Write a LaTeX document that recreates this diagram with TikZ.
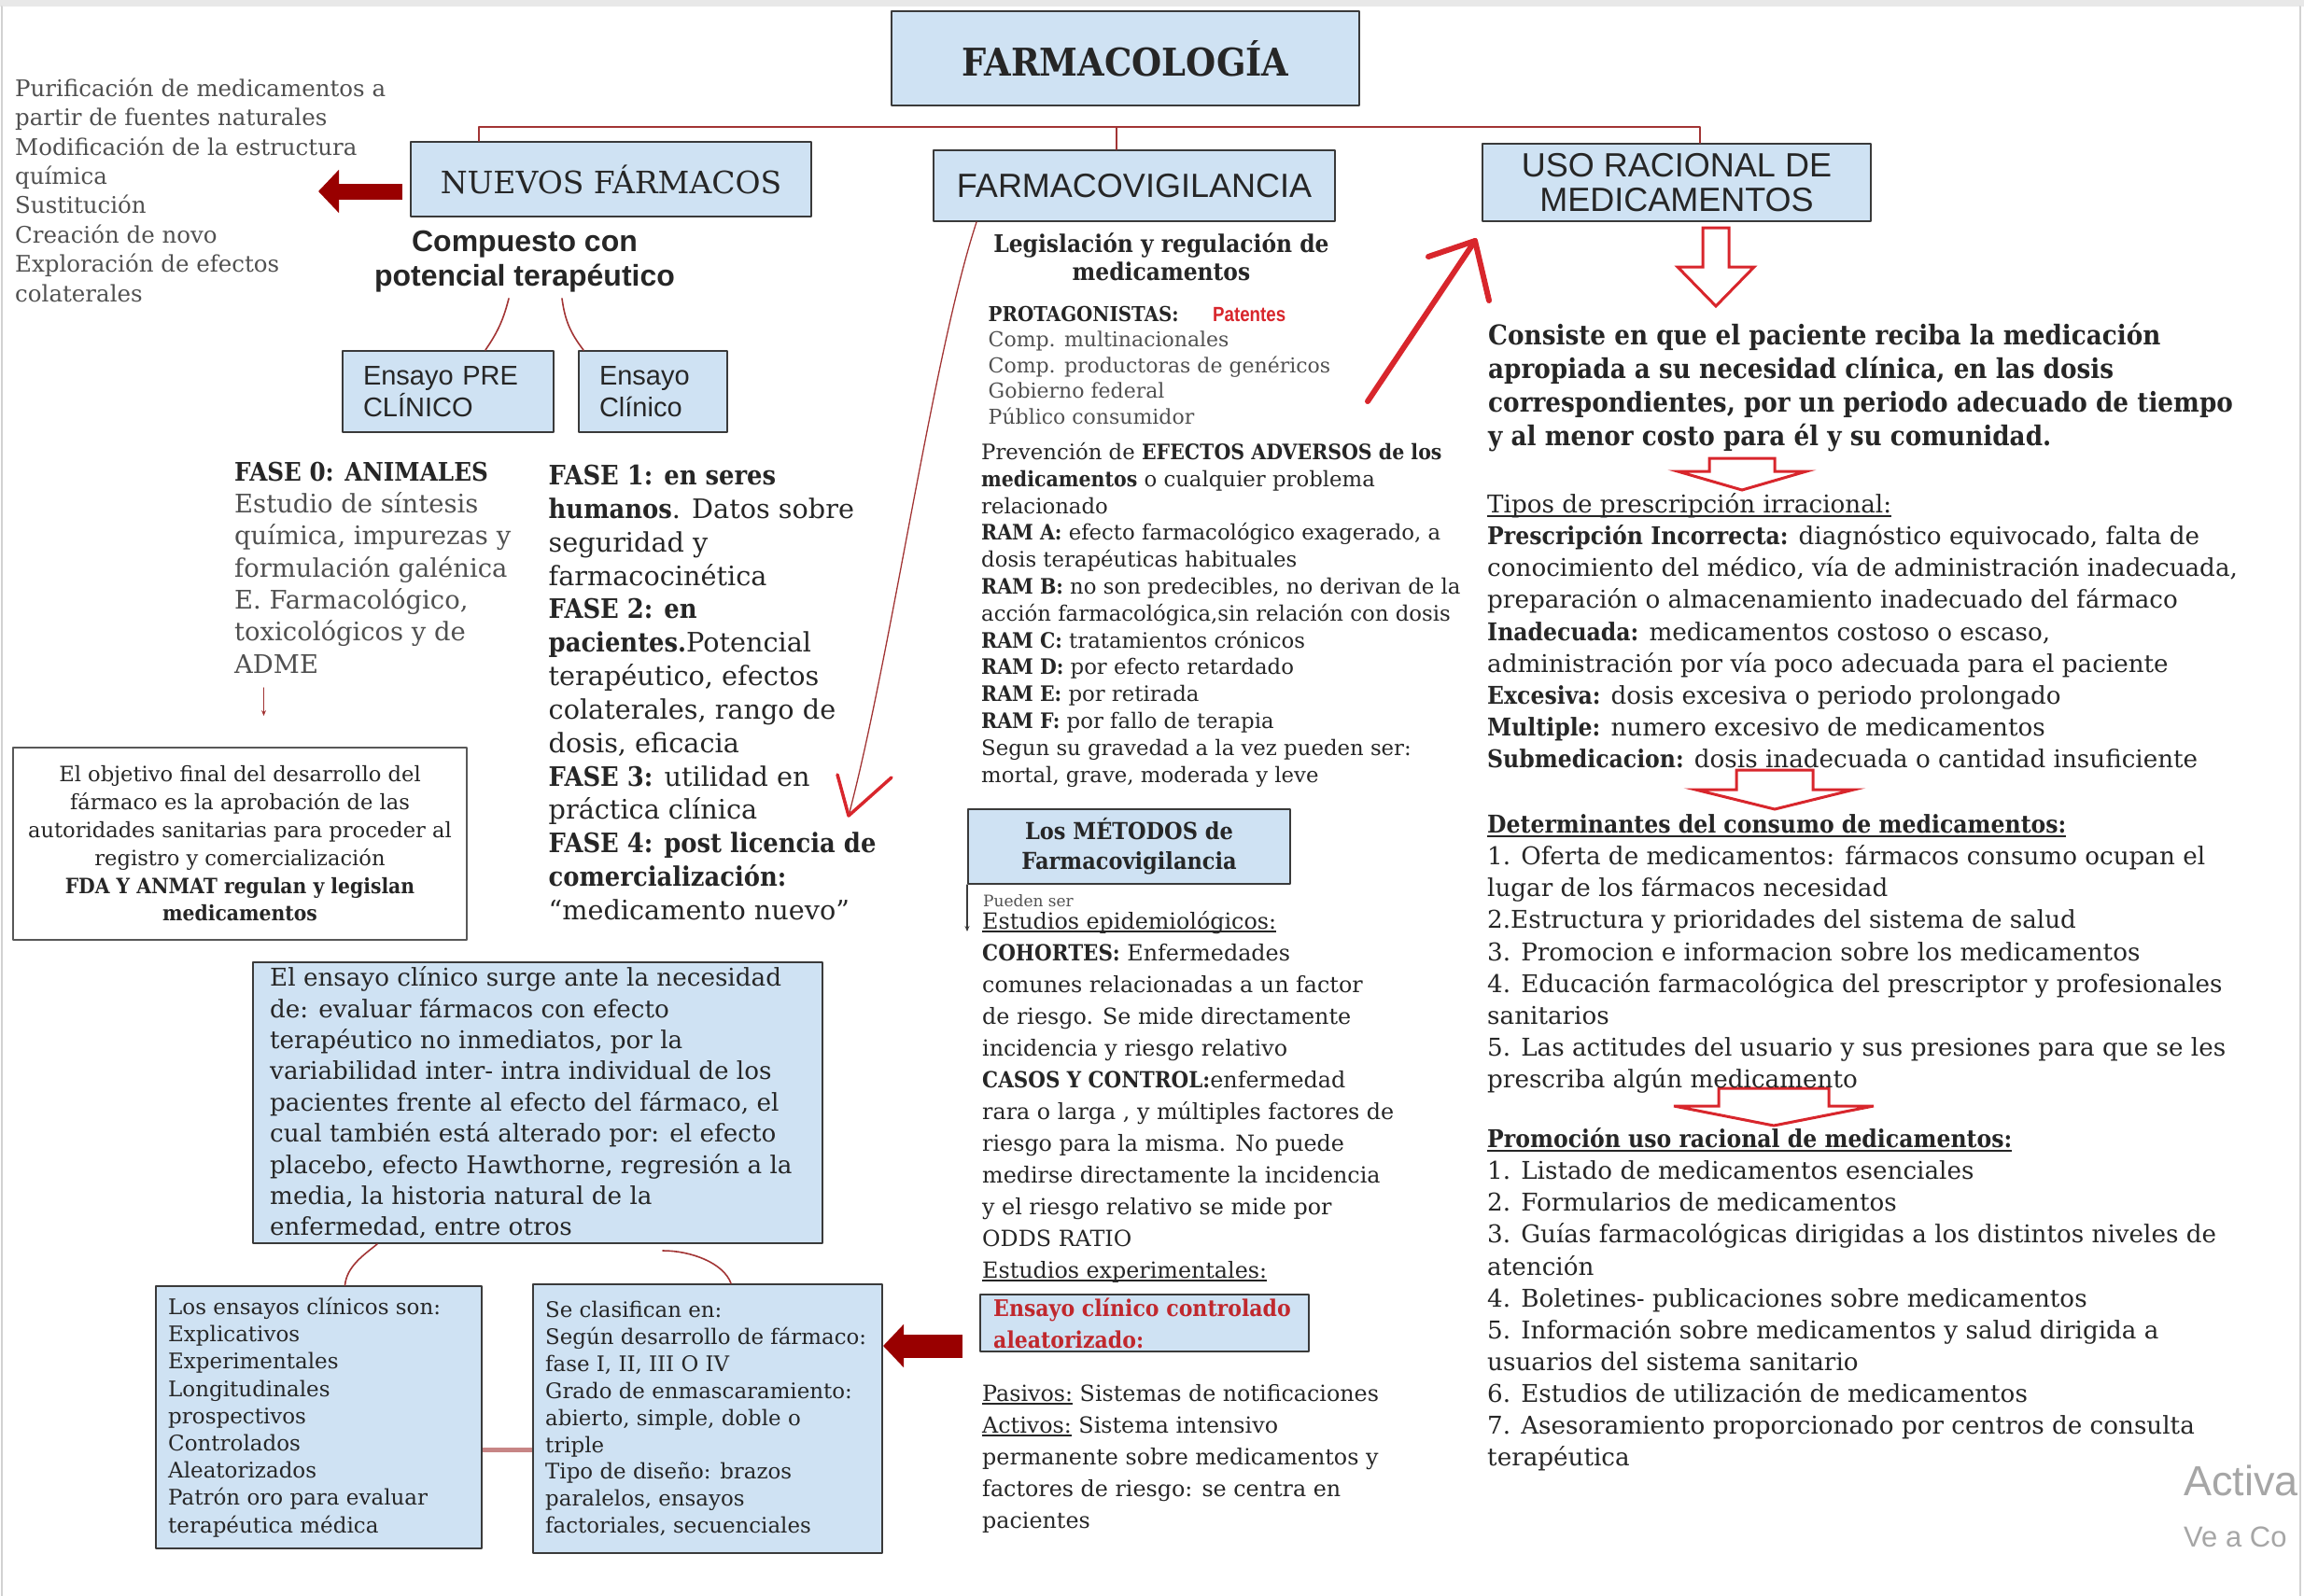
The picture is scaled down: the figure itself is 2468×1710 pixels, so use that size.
\documentclass[tikz,border=0pt]{standalone}
\usepackage{fontspec}
\setmainfont{DejaVu Serif}[BoldFeatures={FakeStretch=0.9}]
\newfontfamily\arialf{Liberation Sans}
\newfontfamily\tallf[FakeStretch=0.85]{Liberation Sans}
\usetikzlibrary{arrows.meta,positioning,calc}
\definecolor{ink}{HTML}{262626}
\definecolor{greyink}{HTML}{505050}
\definecolor{boxfill}{HTML}{CFE2F3}
\definecolor{boxline}{HTML}{3A3A3A}
\definecolor{linkcol}{HTML}{A23434}
\definecolor{darkred}{HTML}{990000}
\definecolor{handred}{HTML}{D8262C}
\definecolor{rctred}{HTML}{C0282D}
\definecolor{wmark}{HTML}{A6A6A6}
\newcommand{\fsz}[2]{\fontsize{#1}{#2}\selectfont}
\newsavebox{\undlbox}
\newcommand{\undl}[1]{\sbox{\undlbox}{#1}\rlap{\rule[-0.17em]{\wd\undlbox}{0.07em}}\usebox{\undlbox}}

\begin{document}
\begin{tikzpicture}[x=1pt, y=-1pt, line cap=round, line join=round,
  box/.style={draw=boxline, fill=boxfill, line width=2pt, inner sep=0pt, text=ink},
  link/.style={linkcol, line width=1.6pt},
  txt/.style={anchor=base west, align=left, inner sep=0pt, text=ink},
  intxt/.style={anchor=west, align=left, inner sep=0pt, text=ink},
  bigarrow/.style={darkred, line width=#1, line cap=butt,
                   -{Triangle[length=22pt, width=45pt]}},
  hollow/.style={draw=handred, line width=3pt, line join=miter}]

\useasboundingbox (0,0) rectangle (2468,1710);

% ---- screen frame -----------------------------------------------------
\fill[gray!18] (0,0) rectangle (2468,7);
\draw[gray!35, line width=2pt] (2,7) -- (2,1710);
\draw[gray!35, line width=2pt] (2464,7) -- (2464,1710);

% (text nodes are placed by the baseline of their last line)

% ================================================================ top
\node[box, minimum width=501pt, minimum height=100pt, font=\bfseries\fsz{41}{46}]
  (farma) at (1205.5,62.5) {FARMACOLOGÍA};

\node[box, minimum width=429pt, minimum height=80pt, font=\fsz{33}{40}]
  (nuevos) at (654.5,192) {NUEVOS FÁRMACOS};
\node[box, minimum width=430pt, minimum height=76pt, font=\arialf\fsz{36}{40}]
  (fvig) at (1215,199) {FARMACOVIGILANCIA};
\node[box, minimum width=416pt, minimum height=83pt, align=center, font=\arialf\fsz{36}{37}]
  (uso) at (1796,195.5) {USO RACIONAL DE\\MEDICAMENTOS};

\coordinate (barL) at (513,136);
\coordinate (barM) at (1196,136);
\coordinate (barR) at (1821,136);
\draw[link] (barL |- nuevos.north) -- (barL) -- (barR) -- (barR |- uso.north);
\draw[link] (barM) -- (barM |- fvig.north);

% ================================================================ left column
\node[txt, font=\fsz{24.5}{31.4}, text=greyink] (leftlist) at (16,323)
  {Purificación de medicamentos a\\partir de fuentes naturales\\Modificación de la estructura\\
   química\\Sustitución\\Creación de novo\\Exploración de efectos\\colaterales};
\draw[bigarrow=17pt] ([xshift=-8pt,yshift=-13pt]nuevos.west) -- ++(-90,0);

\node[anchor=base, align=center, inner sep=0pt, font=\arialf\bfseries\fsz{32}{37}, text=ink]
  (compuesto) at (562,306) {Compuesto con\\potencial terapéutico};

\node[box, minimum width=226pt, minimum height=87pt, text width=182pt, align=left,
      font=\arialf\fsz{29}{34}] (preclin) at (480,419.5) {Ensayo PRE\\CLÍNICO};
\node[box, minimum width=159pt, minimum height=87pt, text width=115pt, align=left,
      font=\arialf\fsz{29}{34}] (clin) at (699.5,419.5) {Ensayo\\Clínico};
\draw[link] ([xshift=-17pt,yshift=-7pt]compuesto.south) to[bend left=10] ([xshift=40pt]preclin.north);
\draw[link] ([xshift=40pt,yshift=-7pt]compuesto.south) to[bend right=15] ([xshift=6pt]clin.north west);

\node[txt, font=\fsz{27.4}{34.3}, text=greyink] (fase0) at (251,721)
  {\textcolor{ink}{\textbf{FASE 0: ANIMALES}}\\Estudio de síntesis\\química, impurezas y\\
   formulación galénica\\E. Farmacológico,\\toxicológicos y de\\ADME};
\coordinate (f0top) at (282.5,737);
\coordinate (f0bot) at (282.5,767);
\draw[link, line width=1.2pt, -{Stealth[length=6pt, width=5pt]}] (f0top) -- (f0bot);

\node[box, fill=white, draw=boxline!85, line width=1.5pt, minimum width=486pt, minimum height=206pt,
      align=center, font=\fsz{22.6}{29.8}] (objetivo) at (257,904)
  {El objetivo final del desarrollo del\\fármaco es la aprobación de las\\
   autoridades sanitarias para proceder al\\registro y comercialización\\
   \textbf{FDA Y ANMAT regulan y legislan}\\\textbf{medicamentos}};

\node[txt, font=\fsz{28.7}{35.85}] (fase1) at (587.5,985.5)
  {\textbf{FASE 1: en seres}\\\textbf{humanos}. Datos sobre\\seguridad y\\farmacocinética\\
   \textbf{FASE 2: en}\\\textbf{pacientes.}Potencial\\terapéutico, efectos\\colaterales, rango de\\
   dosis, eficacia\\\textbf{FASE 3:} utilidad en\\práctica clínica\\
   \textbf{FASE 4: post licencia de}\\\textbf{comercialización:}\\“medicamento nuevo”};

% ---- ensayo clinico boxes ----------------------------------------------
\node[box, minimum width=610pt, minimum height=301pt] (bigbox) at (576,1181.5) {};
\node[intxt, font=\fsz{26.2}{33.4}] (bigtxt) at ([xshift=19pt]bigbox.west)
  {El ensayo clínico surge ante la necesidad\\de: evaluar fármacos con efecto\\
   terapéutico no inmediatos, por la\\variabilidad inter- intra individual de los\\
   pacientes frente al efecto del fármaco, el\\cual también está alterado por: el efecto\\
   placebo, efecto Hawthorne, regresión a la\\media, la historia natural de la\\
   enfermedad, entre otros};

\node[box, minimum width=349pt, minimum height=281pt] (sonbox) at (341.5,1518.5) {};
\node[intxt, font=\fsz{23}{29.2}] (sontxt) at ([xshift=14pt]sonbox.west)
  {Los ensayos clínicos son:\\Explicativos\\Experimentales\\Longitudinales\\prospectivos\\
   Controlados\\Aleatorizados\\Patrón oro para evaluar\\terapéutica médica};

\node[box, minimum width=374pt, minimum height=288pt] (clasbox) at (758,1520) {};
\node[intxt, font=\fsz{22.9}{28.9}] (clastxt) at ([xshift=14pt]clasbox.west)
  {Se clasifican en:\\Según desarrollo de fármaco:\\fase I, II, III O IV\\
   Grado de enmascaramiento:\\abierto, simple, doble o\\triple\\Tipo de diseño: brazos\\
   paralelos, ensayos\\factoriales, secuenciales};

\draw[link] ([xshift=-172pt]bigbox.south) .. controls +(-15,12) and +(2,-20) .. ([xshift=28pt]sonbox.north);
\draw[link] ([xshift=134pt,yshift=-7pt]bigbox.south) .. controls +(30,0) and +(-8,-22) .. ([xshift=25pt]clasbox.north);
\coordinate (sc) at ([yshift=-34.5pt]sonbox.east);
\draw[linkcol!60, line width=5pt, line cap=butt] (sc) -- (sc -| clasbox.west);

% ================================================================ middle column
\node[anchor=base, align=center, inner sep=0pt, font=\bfseries\fsz{26}{30}, text=ink]
  (legis) at (1244,300) {Legislación y regulación de\\medicamentos};

\node[txt, font=\fsz{22}{27.5}, text=greyink] (protag) at (1058.5,454)
  {\textcolor{ink}{\textbf{PROTAGONISTAS:}}\\Comp. multinacionales\\Comp. productoras de genéricos\\
   Gobierno federal\\Público consumidor};
\node[anchor=base west, inner sep=0pt, font=\tallf\bfseries\fsz{22}{22}, text=handred]
  (patentes) at (1299,344) {Patentes};

\node[txt, font=\fsz{22.8}{28.8}] (prev) at (1051,838)
  {Prevención de \textbf{EFECTOS ADVERSOS de los}\\\textbf{medicamentos} o cualquier problema\\
   relacionado\\\textbf{RAM A:} efecto farmacológico exagerado, a\\dosis terapéuticas habituales\\
   \textbf{RAM B:} no son predecibles, no derivan de la\\acción farmacológica,sin relación con dosis\\
   \textbf{RAM C:} tratamientos crónicos\\\textbf{RAM D:} por efecto retardado\\
   \textbf{RAM E:} por retirada\\\textbf{RAM F:} por fallo de terapia\\
   Segun su gravedad a la vez pueden ser:\\mortal, grave, moderada y leve};

% long curved arrow towards the phases
\coordinate (vtip) at (909,874);
\draw[link, line width=1.3pt] ([xshift=47pt]fvig.south west) .. controls +(-47,143) and +(46,-174) .. (vtip);
\draw[handred, line width=3.5pt] ($(vtip)+(-12,-44)$) -- (vtip) -- ($(vtip)+(46,-41)$);

% hand drawn arrow towards USO RACIONAL
\coordinate (hTail) at (1465,430);
\coordinate (hTip) at (1580,258);
\draw[handred, line width=6pt] (hTail) -- (hTip);
\draw[handred, line width=6pt] ($(hTip)+(-50,17)$) -- (hTip) -- ($(hTip)+(15,64)$);

\node[box, minimum width=345pt, minimum height=80pt, align=center, font=\bfseries\fsz{25}{32}]
  (metodos) at (1209.5,907) {Los MÉTODOS de\\Farmacovigilancia};
\draw[boxline, line width=1.3pt, -{Stealth[length=6pt, width=5pt]}] (metodos.south west) -- ++(0,50);

\node[txt, font=\fsz{17}{17}, text=greyink] (pueden) at (1053,971) {Pueden ser};
\node[txt, font=\fsz{23.8}{34}] (cohort) at (1052,1369)
  {\undl{Estudios epidemiológicos:}\\\textbf{COHORTES:} Enfermedades\\comunes relacionadas a un factor\\
   de riesgo. Se mide directamente\\incidencia y riesgo relativo\\\textbf{CASOS Y CONTROL:}enfermedad\\
   rara o larga , y múltiples factores de\\riesgo para la misma. No puede\\
   medirse directamente la incidencia\\y el riesgo relativo se mide por\\ODDS RATIO\\
   \undl{Estudios experimentales:}};

\node[box, minimum width=352pt, minimum height=61pt] (rct) at (1226,1417.5) {};
\node[intxt, font=\bfseries\fsz{24.5}{34}, text=rctred] (rcttxt) at ([xshift=15pt]rct.west)
  {Ensayo clínico controlado\\aleatorizado:};
\coordinate (rt) at ([xshift=-18pt,yshift=-24.5pt]rct.west);
\draw[bigarrow=25pt] (rt) -- (rt -| clasbox.east);

\node[txt, font=\fsz{23.8}{34}] (pasivos) at (1052,1637)
  {\undl{Pasivos:} Sistemas de notificaciones\\\undl{Activos:} Sistema intensivo\\
   permanente sobre medicamentos y\\factores de riesgo: se centra en\\pacientes};

% ================================================================ right column
\foreach \cx/\ty/\hy/\py/\sw/\hw in {1838/244/286/328/14/41, 1866/491/505/525/35/69,
                                     1901/825/846/867/41/85, 1900/1166/1185/1206/59/107}
  \draw[hollow] ({\cx-\sw},\ty) -- ({\cx+\sw},\ty) -- ({\cx+\sw},\hy) -- ({\cx+\hw},\hy)
    -- (\cx,\py) -- ({\cx-\hw},\hy) -- ({\cx-\sw},\hy) -- cycle;

\node[txt, font=\bfseries\fsz{29.2}{36}] (consiste) at (1594,477)
  {Consiste en que el paciente reciba la medicación\\apropiada a su necesidad clínica, en las dosis\\
   correspondientes, por un periodo adecuado de tiempo\\y al menor costo para él y su comunidad.};

\node[txt, font=\fsz{26.2}{34.1}] (tipos) at (1593,822.4)
  {\undl{Tipos de prescripción irracional:}\\
   \textbf{Prescripción Incorrecta:} diagnóstico equivocado, falta de\\
   conocimiento del médico, vía de administración inadecuada,\\
   preparación o almacenamiento inadecuado del fármaco\\
   \textbf{Inadecuada:} medicamentos costoso o escaso,\\
   administración por vía poco adecuada para el paciente\\
   \textbf{Excesiva:} dosis excesiva o periodo prolongado\\
   \textbf{Multiple:} numero excesivo de medicamentos\\
   \textbf{Submedicacion:} dosis inadecuada o cantidad insuficiente};

\node[txt, font=\fsz{26.2}{34.1}] (determ) at (1593,1165.4)
  {\undl{\textbf{Determinantes del consumo de medicamentos:}}\\
   1. Oferta de medicamentos: fármacos consumo ocupan el\\lugar de los fármacos necesidad\\
   2.Estructura y prioridades del sistema de salud\\
   3. Promocion e informacion sobre los medicamentos\\
   4. Educación farmacológica del prescriptor y profesionales\\sanitarios\\
   5. Las actitudes del usuario y sus presiones para que se les\\prescriba algún medicamento};

\node[txt, font=\fsz{26.2}{34.1}] (promo) at (1593,1570.6)
  {\undl{\textbf{Promoción uso racional de medicamentos:}}\\
   1. Listado de medicamentos esenciales\\2. Formularios de medicamentos\\
   3. Guías farmacológicas dirigidas a los distintos niveles de\\atención\\
   4. Boletines- publicaciones sobre medicamentos\\
   5. Información sobre medicamentos y salud dirigida a\\usuarios del sistema sanitario\\
   6. Estudios de utilización de medicamentos\\
   7. Asesoramiento proporcionado por centros de consulta\\terapéutica};

% ---- watermark -----------------------------------------------------------
\node[anchor=base west, inner sep=0pt, font=\arialf\fsz{45}{45}, text=wmark] (wm1) at (2339,1602) {Activa};
\node[anchor=base west, inner sep=0pt, font=\arialf\fsz{31}{31}, text=wmark] (wm2) at (2339,1657) {Ve a Co};

\end{tikzpicture}
\end{document}
